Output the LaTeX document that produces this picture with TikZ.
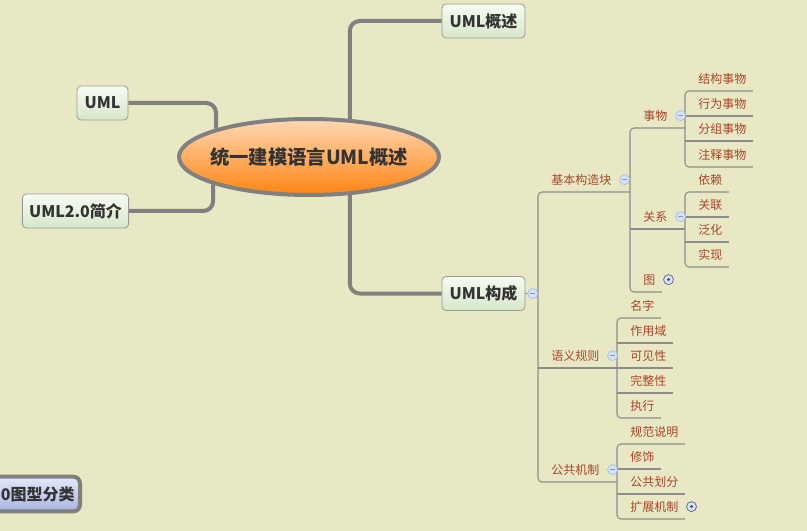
\documentclass[tikz,border=0pt]{standalone}
\usepackage{fontspec}
\newfontfamily\cjk{Noto Sans CJK SC}
\usetikzlibrary{positioning, shapes.geometric}
\definecolor{paper}{HTML}{E8E8C4}
\definecolor{branch}{HTML}{808080}
\definecolor{twigc}{HTML}{8C8C8C}
\definecolor{leafc}{HTML}{A8452A}
\definecolor{inkc}{HTML}{333333}
\definecolor{boxtop}{HTML}{F8FBF2}
\definecolor{boxbot}{HTML}{D6E7C9}
\definecolor{hubtop}{HTML}{FFD9B4}
\definecolor{hubbot}{HTML}{FF8412}
\definecolor{tailtop}{HTML}{E4E8F7}
\definecolor{tailbot}{HTML}{A9B5E2}
\definecolor{foldfill}{HTML}{D6E2F8}
\definecolor{folddraw}{HTML}{A6BCE4}

\begin{document}
\begin{tikzpicture}[
    x=0.75pt, y=-0.75pt,
    hub/.style={ellipse, draw=branch, line width=3pt, top color=hubtop, bottom color=hubbot,
        minimum width=195pt, minimum height=57pt, inner xsep=-8pt, inner ysep=0pt, text=inkc,
        font=\cjk\bfseries\fontsize{14.5}{14.5}\selectfont},
    topic/.style={draw=branch!80, line width=0.6pt, rounded corners=3pt, top color=boxtop,
        bottom color=boxbot, minimum height=25.5pt, inner xsep=5pt, text=inkc,
        font=\cjk\bfseries\fontsize{12}{12}\selectfont},
    tail/.style={draw=branch, line width=3pt, rounded corners=5pt, top color=tailtop,
        bottom color=tailbot, minimum height=26pt, text width=72pt, align=right,
        inner xsep=4pt, text=inkc, font=\cjk\bfseries\fontsize{12}{12}\selectfont},
    leaf/.style={anchor=south west, inner xsep=9.75pt, inner ysep=4.6pt, text height=8pt,
        text depth=1pt, text=leafc, font=\cjk\fontsize{9}{9}\selectfont},
    branchline/.style={draw=branch, line width=3pt, rounded corners=7.5pt},
    twig/.style={draw=twigc, line width=0.8pt, rounded corners=3pt},
    fold/.style={circle, draw=folddraw, fill=foldfill, line width=0.5pt, minimum size=7.5pt,
        inner sep=0pt, path picture={
            \draw[folddraw!80!black, line width=0.6pt]
                ([xshift=-1.9pt]path picture bounding box.center) --
                ([xshift=1.9pt]path picture bounding box.center);}},
    unfold/.style={circle, draw=folddraw!60!black, fill=foldfill, line width=0.6pt,
        minimum size=7.5pt, inner sep=0pt, path picture={
            \fill[folddraw!40!black] (path picture bounding box.center) circle (1.2pt);}},
]

\fill[paper] (0,0) rectangle (807,531);
\useasboundingbox (0,0) rectangle (807,531);

% main topics
\node[hub] (hub) at (309,157) {统一建模语言UML概述};
\node[topic, minimum width=62.25pt] (gs) at (483.5,21) {UML概述};
\node[topic, minimum width=38.25pt] (uml) at (102.5,103) {UML};
\node[topic, minimum width=78.75pt] (jj) at (75.5,211) {UML2.0简介};
\node[topic, minimum width=62.25pt] (gc) at (483.5,293.5) {UML构成};
\node[tail, anchor=east] (fl) at (82,494) {0图型分类};

\draw[branchline] (hub.43) |- (gs.west);
\draw[branchline] (hub.-43) |- (gc.west);
\draw[branchline] (uml.east) -| (hub.163);
\draw[branchline] (jj.east) -| (hub.196);

% UML构成
\node[leaf] (jb) at (538,192) {基本构造块};
\node[leaf] (yy) at (538,368) {语义规则};
\node[leaf] (gg) at (538,482) {公共机制};

\node[leaf] (sw) at (630,128) {事物};
\node[leaf] (gx) at (630,229) {关系};
\node[leaf] (tu) at (630,292) {图};

\node[leaf] (s1) at (685,91) {结构事物};
\node[leaf] (s2) at (685,116) {行为事物};
\node[leaf] (s3) at (685,141) {分组事物};
\node[leaf] (s4) at (685,167) {注释事物};

\node[leaf] (r1) at (685,192) {依赖};
\node[leaf] (r2) at (685,217) {关联};
\node[leaf] (r3) at (685,242) {泛化};
\node[leaf] (r4) at (685,267) {实现};

\node[leaf] (y1) at (617,318) {名字};
\node[leaf] (y2) at (617,343) {作用域};
\node[leaf] (y3) at (617,368) {可见性};
\node[leaf] (y4) at (617,393) {完整性};
\node[leaf] (y5) at (617,418) {执行};

\node[leaf] (m1) at (617,444) {规范说明};
\node[leaf] (m2) at (617,469) {修饰};
\node[leaf] (m3) at (617,494) {公共划分};
\node[leaf] (m4) at (617,519) {扩展机制};

\draw[twig] (gc.east) -- (gc.east -| jb.west);
\draw[twig] (jb.south -| sw.west) -- (jb.south west) -- (gg.south west) -- (gg.south -| m1.west);
\draw[twig] (yy.south west) -- (yy.south -| y1.west);

\draw[twig] (sw.south -| s1.west) -- (sw.south west) -- (tu.south west) -- ([xshift=-5pt]tu.south east);
\draw[twig] (gx.south west) -- (gx.south -| r1.west);

\draw[twig] ([xshift=-5pt]s1.south east) -- (s1.south west) -- (s4.south west) -- ([xshift=-5pt]s4.south east);
\draw[twig] ([xshift=-5pt]r1.south east) -- (r1.south west) -- (r4.south west) -- ([xshift=-5pt]r4.south east);
\draw[twig] ([xshift=-5pt]y1.south east) -- (y1.south west) -- (y5.south west) -- ([xshift=-5pt]y5.south east);
\draw[twig] ([xshift=-5pt]m1.south east) -- (m1.south west) -- (m4.south west) -- ([xshift=-5pt]m4.south east);
\foreach \n in {s2,s3,r2,r3,y2,y3,y4,m2,m3}
    \draw[twig] (\n.south west) -- ([xshift=-5pt]\n.south east);

% fold marks
\node[fold] at ([xshift=5.5pt]gc.east) {};
\foreach \n in {jb,yy,gg,sw,gx}
    \node[fold] at (\n.east) {};
\node[unfold] at (tu.east) {};
\node[unfold] at (m4.east) {};
\end{tikzpicture}
\end{document}
